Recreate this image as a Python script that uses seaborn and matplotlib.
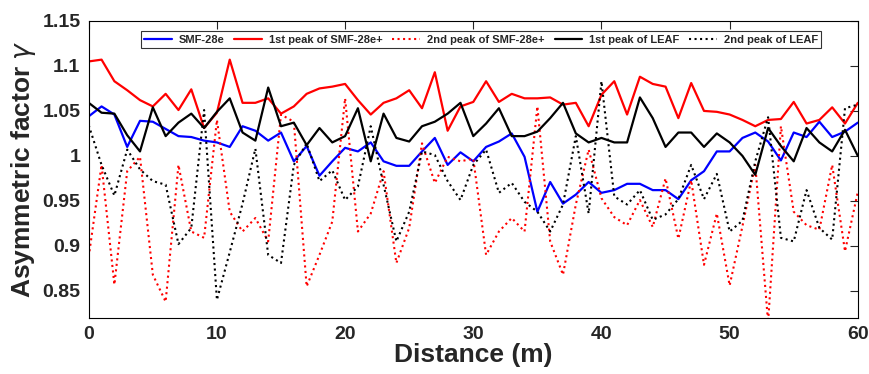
import matplotlib
matplotlib.use('Agg')
import matplotlib.pyplot as plt
import numpy as np
import pandas as pd
import seaborn as sns

# distance along the fibre, 1 m steps
distance = list(range(61))

smf28e = [1.044, 1.055, 1.046, 1.010, 1.039, 1.038, 1.030, 1.022, 1.021, 1.017,
          1.015, 1.010, 1.033, 1.028, 1.017, 1.026, 0.994, 1.011, 0.978, 0.994,
          1.009, 1.005, 1.015, 0.994, 0.989, 0.989, 1.005, 1.020, 0.990, 1.004,
          0.994, 1.010, 1.016, 1.025, 0.999, 0.938, 0.971, 0.947, 0.957, 0.971,
          0.959, 0.962, 0.969, 0.969, 0.962, 0.962, 0.952, 0.973, 0.983, 1.005,
          1.005, 1.020, 1.026, 1.016, 0.995, 1.026, 1.021, 1.038, 1.021, 1.027,
          1.037]

smf28e_plus_1st = [1.105, 1.107, 1.083, 1.073, 1.062, 1.055, 1.069, 1.051, 1.074, 1.031,
                   1.048, 1.107, 1.059, 1.059, 1.064, 1.047, 1.055, 1.069, 1.075, 1.077,
                   1.080, 1.062, 1.046, 1.059, 1.064, 1.073, 1.053, 1.093, 1.028, 1.055,
                   1.060, 1.083, 1.060, 1.069, 1.064, 1.064, 1.065, 1.057, 1.059, 1.033,
                   1.068, 1.083, 1.046, 1.088, 1.080, 1.077, 1.042, 1.081, 1.050, 1.049,
                   1.046, 1.040, 1.033, 1.040, 1.041, 1.060, 1.036, 1.040, 1.054, 1.036,
                   1.059]

smf28e_plus_2nd = [0.888, 0.990, 0.857, 0.983, 0.999, 0.868, 0.838, 0.990, 0.916, 0.909,
                   1.040, 0.938, 0.916, 0.931, 0.905, 1.046, 1.038, 0.855, 0.890, 0.927,
                   1.064, 0.916, 0.936, 0.983, 0.881, 0.920, 1.014, 0.970, 0.999, 0.994,
                   0.997, 0.890, 0.916, 0.931, 0.916, 1.055, 0.905, 0.868, 0.946, 1.007,
                   0.953, 0.932, 0.923, 0.951, 0.921, 0.975, 0.908, 0.973, 0.879, 0.936,
                   0.856, 0.922, 0.990, 0.815, 1.033, 0.938, 0.923, 0.918, 0.990, 0.894,
                   0.960]

leaf_1st = [1.059, 1.048, 1.047, 1.023, 1.005, 1.054, 1.022, 1.037, 1.047, 1.031,
            1.049, 1.064, 1.026, 1.017, 1.076, 1.033, 1.037, 1.012, 1.031, 1.015,
            1.022, 1.053, 0.994, 1.047, 1.020, 1.016, 1.033, 1.038, 1.047, 1.059,
            1.022, 1.036, 1.053, 1.022, 1.022, 1.027, 1.042, 1.059, 1.025, 1.015,
            1.020, 1.015, 1.015, 1.065, 1.042, 1.010, 1.026, 1.026, 1.010, 1.025,
            1.015, 1.000, 0.979, 1.031, 1.011, 0.994, 1.031, 1.015, 1.005, 1.029,
            1.000]

leaf_2nd = [1.034, 0.990, 0.956, 1.007, 0.985, 0.972, 0.968, 0.902, 0.920, 1.051,
            0.840, 0.893, 0.947, 1.008, 0.890, 0.881, 0.990, 1.014, 0.972, 0.984,
            0.951, 0.966, 1.033, 0.968, 0.905, 0.938, 1.005, 1.001, 0.972, 0.951,
            0.990, 1.007, 0.959, 0.970, 0.949, 0.938, 0.916, 0.946, 1.022, 0.936,
            1.083, 0.955, 0.946, 0.962, 0.929, 0.935, 0.952, 0.990, 0.952, 0.980,
            0.916, 0.928, 0.994, 1.043, 0.909, 0.905, 0.962, 0.920, 0.907, 1.053,
            1.057]

labels = ["SMF-28e", "1st peak of SMF-28e+", "2nd peak of SMF-28e+",
          "1st peak of LEAF", "2nd peak of LEAF"]
series = [smf28e, smf28e_plus_1st, smf28e_plus_2nd, leaf_1st, leaf_2nd]
colors = ["#0000ff", "#ff0000", "#ff0000", "#000000", "#000000"]
styles = ["-", "-", ":", "-", ":"]

sns.set_style("white")
plt.rcParams['font.family'] = ['Liberation Sans', 'DejaVu Sans']

fig = plt.figure(figsize=(8.7, 3.74), dpi=100)
ax = fig.add_axes([0.102, 0.150, 0.884, 0.794])

for vals, lab, col, ls in zip(series, labels, colors, styles):
    sns.lineplot(x=distance, y=vals, ax=ax, color=col, linestyle=ls,
                 linewidth=1.6 if ls == "-" else 1.5, label=lab)

ax.set_xlim(0, 60)
ax.set_ylim(0.82, 1.15)
ax.set_xticks([0, 10, 20, 30, 40, 50, 60])
ax.set_yticks([0.85, 0.9, 0.95, 1.0, 1.05, 1.1, 1.15])
ax.set_yticklabels(["0.85", "0.9", "0.95", "1", "1.05", "1.1", "1.15"])
ax.tick_params(direction='in', top=True, right=True, length=6, width=0.8,
               labelsize=14, pad=6)
for lbl in ax.get_xticklabels() + ax.get_yticklabels():
    lbl.set_fontweight('bold')
for sp in ax.spines.values():
    sp.set_color('black')
    sp.set_linewidth(0.8)

ax.set_xlabel("Distance (m)", fontsize=19, fontweight='bold', labelpad=0)
ax.set_ylabel(r"Asymmetric factor $\gamma$", fontsize=19, fontweight='bold', labelpad=3)

leg = ax.legend(loc='upper center', bbox_to_anchor=(0.51, 0.965), ncol=5,
                fontsize=8, frameon=True, fancybox=False, handlelength=2.5,
                columnspacing=0.9, handletextpad=0.6, borderpad=0.3,
                borderaxespad=0)
leg.get_frame().set_edgecolor('black')
leg.get_frame().set_linewidth(0.8)
for t in leg.get_texts():
    t.set_fontweight('bold')

fig.savefig("out.png", dpi=100)
